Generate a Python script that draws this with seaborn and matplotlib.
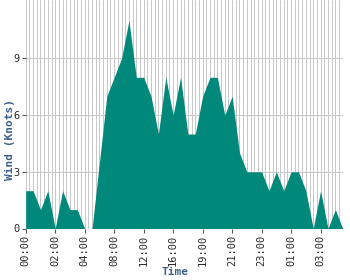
import matplotlib
matplotlib.use("Agg")
import matplotlib.pyplot as plt
from matplotlib.ticker import MultipleLocator, FixedLocator
import seaborn as sns
import pandas as pd

wind = [2, 2, 1, 2, 0, 2, 1, 1, 0, 0, 3.5, 7, 8, 9, 11, 8, 8, 7, 5, 8, 6, 8,
        5, 5, 7, 8, 8, 6, 7, 4, 3, 3, 3, 2, 3, 2, 3, 3, 2, 0, 2, 0, 1, 0]
tick_labels = ["00:00", "02:00", "04:00", "08:00", "12:00", "16:00",
               "19:00", "21:00", "23:00", "01:00", "03:00"]
label_step = 4
y_ticks = [0, 3, 6, 9]

df = pd.DataFrame({"idx": range(len(wind)), "wind": wind})

sns.set_theme(style="white")
plt.rcParams["font.family"] = ["DejaVu Sans Mono", "DejaVu Sans"]

fig = plt.figure(figsize=(3.5, 2.8), dpi=100)
ax = fig.add_axes([25.7 / 350, 1 - 228.5 / 280, (342.7 - 25.7) / 350, 228.5 / 280])

teal = "#00897B"
ax.fill_between(df["idx"], 0, df["wind"], color=teal, linewidth=0, zorder=2)
sns.lineplot(data=df, x="idx", y="wind", ax=ax, color=teal, linewidth=0, zorder=3)

ax.set_xlim(0, len(wind) - 1)
ax.set_ylim(0, 12.09)
ax.xaxis.set_major_locator(FixedLocator([i * label_step for i in range(len(tick_labels))]))
ax.set_xticklabels(tick_labels, rotation=90)
ax.xaxis.set_minor_locator(MultipleLocator(0.5))
ax.set_yticks(y_ticks)

ax.set_axisbelow(True)
ax.grid(True, which="both", axis="x", color="#c8c8c8", linewidth=0.72)
ax.grid(True, which="major", axis="y", color="#c8c8c8", linewidth=0.72)

for s in ax.spines.values():
    s.set_visible(False)

ax.tick_params(axis="both", which="major", labelsize=7.5, labelcolor="#2a2a2a",
               color="#555555", length=3, width=0.8, pad=1.5)
ax.tick_params(axis="x", which="minor", length=0)
ax.tick_params(left=True, bottom=True)
ax.set_xlabel("")
ax.set_ylabel("")

label_color = "#3e5f8a"
fig.text(9.5 / 350, 0.5, "Wind (Knots)", rotation=90, ha="center", va="center",
         fontsize=8, fontweight="bold", color=label_color)
fig.text(0.5, 1 - 272 / 280, "Time", ha="center", va="center",
         fontsize=8, fontweight="bold", color=label_color)

fig.savefig("out.png", dpi=100)
